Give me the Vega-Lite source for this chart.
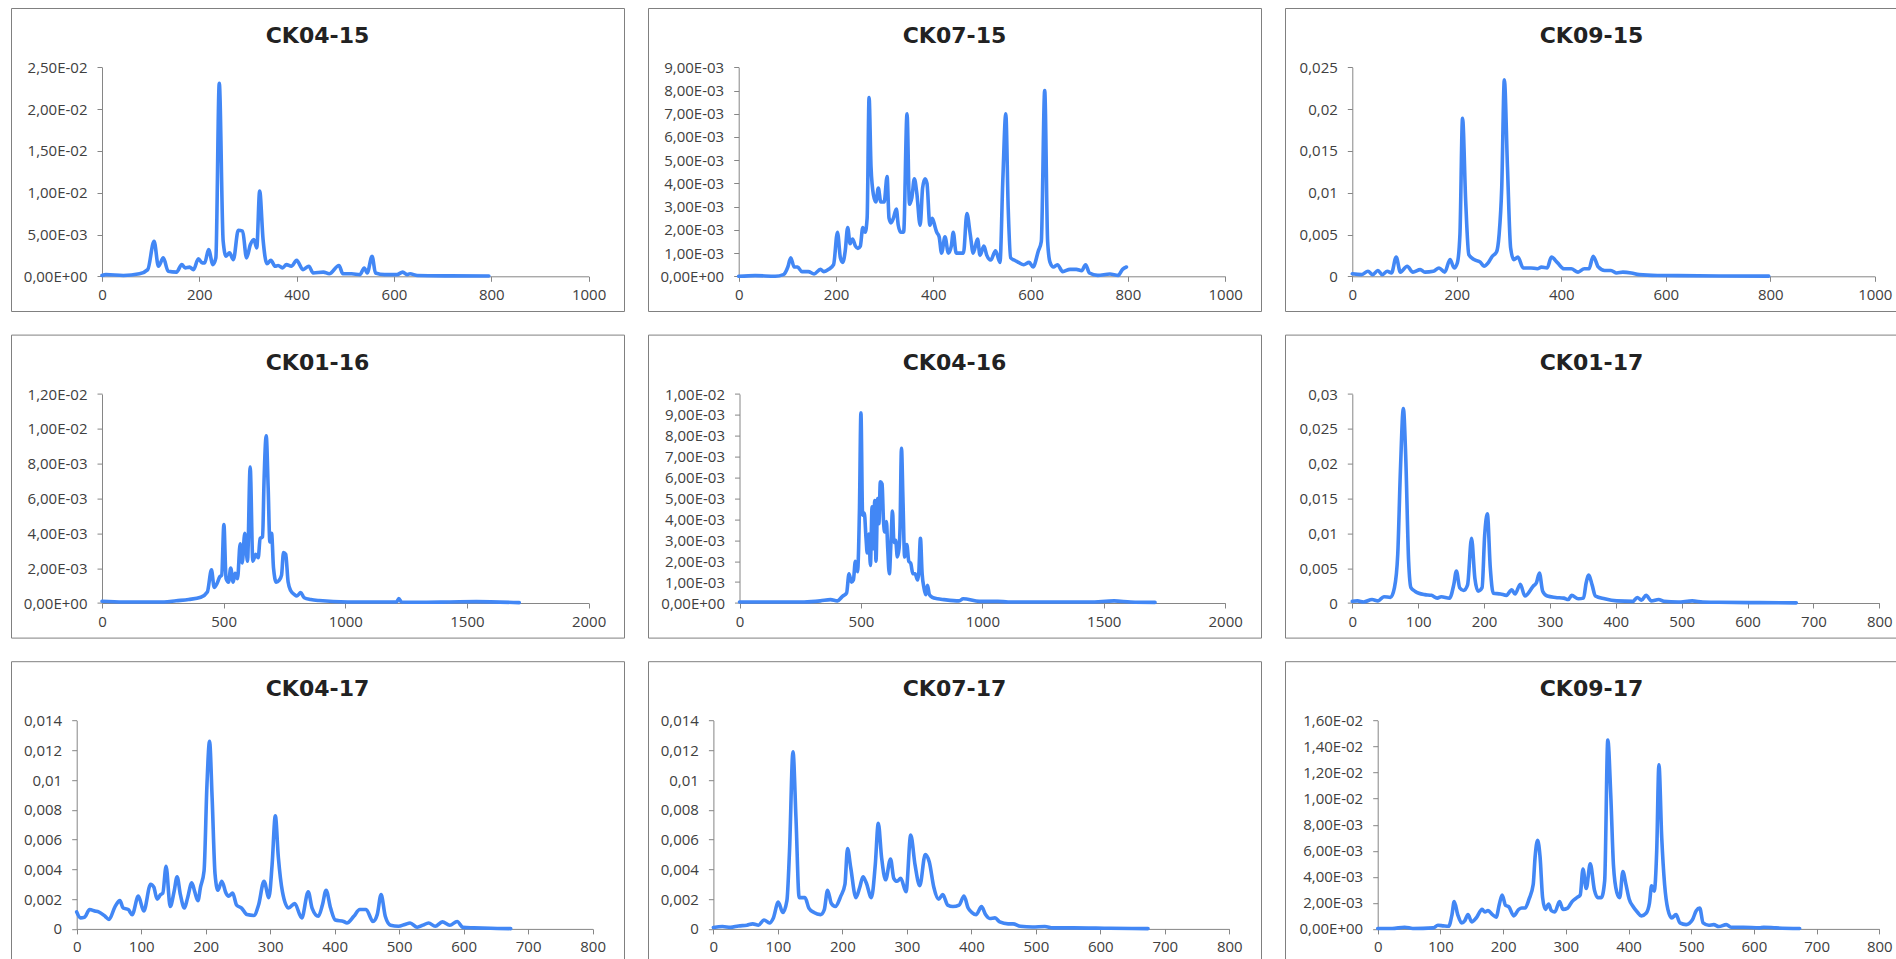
{
  "$schema": "https://vega.github.io/schema/vega-lite/v6.json",
  "background": "white",
  "padding": {"left": 10, "top": 7, "right": 0, "bottom": 0},
  "columns": 3,
  "spacing": {"row": 23.6, "column": 24},
  "bounds": "flush",
  "datasets": {
    "ck0415": [{"x":0,"y":0.0001},{"x":8,"y":0.0002},{"x":44,"y":0.0001},{"x":77,"y":0.0003},{"x":94,"y":0.0008},{"x":107,"y":0.0042},{"x":116,"y":0.0012},{"x":126,"y":0.0022},{"x":136,"y":0.0006},{"x":153,"y":0.0005},{"x":164,"y":0.0014},{"x":171,"y":0.001},{"x":180,"y":0.0011},{"x":188,"y":0.0008},{"x":198,"y":0.0021},{"x":206,"y":0.0016},{"x":211,"y":0.0016},{"x":219,"y":0.0032},{"x":228,"y":0.0014},{"x":234,"y":0.0022},{"x":241,"y":0.0231},{"x":249,"y":0.0042},{"x":255,"y":0.0024},{"x":262,"y":0.0028},{"x":270,"y":0.002},{"x":280,"y":0.0055},{"x":289,"y":0.0054},{"x":297,"y":0.0022},{"x":305,"y":0.0038},{"x":312,"y":0.0044},{"x":318,"y":0.0034},{"x":324,"y":0.0102},{"x":331,"y":0.0044},{"x":339,"y":0.0015},{"x":347,"y":0.0019},{"x":356,"y":0.0012},{"x":362,"y":0.0013},{"x":371,"y":0.001},{"x":379,"y":0.0014},{"x":389,"y":0.0012},{"x":400,"y":0.0019},{"x":413,"y":0.0008},{"x":425,"y":0.0012},{"x":434,"y":0.0004},{"x":455,"y":0.0005},{"x":467,"y":0.0003},{"x":487,"y":0.0013},{"x":495,"y":0.0003},{"x":513,"y":0.0003},{"x":530,"y":0.0002},{"x":539,"y":0.001},{"x":545,"y":0.0004},{"x":555,"y":0.0024},{"x":562,"y":0.0004},{"x":581,"y":0.0002},{"x":606,"y":0.0002},{"x":618,"y":0.0005},{"x":627,"y":0.0002},{"x":633,"y":0.0003},{"x":648,"y":0.0001},{"x":715,"y":0.00005},{"x":795,"y":0.00003}],
    "ck0715": [{"x":0,"y":0},{"x":34,"y":0.00003},{"x":75,"y":0},{"x":92,"y":0.00007},{"x":101,"y":0.0004},{"x":107,"y":0.0008},{"x":114,"y":0.0004},{"x":121,"y":0.0004},{"x":130,"y":0.0002},{"x":143,"y":0.0002},{"x":155,"y":0.0001},{"x":168,"y":0.0003},{"x":175,"y":0.0002},{"x":185,"y":0.0003},{"x":195,"y":0.0005},{"x":203,"y":0.0019},{"x":209,"y":0.0008},{"x":214,"y":0.0006},{"x":219,"y":0.0011},{"x":224,"y":0.0021},{"x":229,"y":0.0014},{"x":234,"y":0.0016},{"x":240,"y":0.0013},{"x":245,"y":0.0012},{"x":250,"y":0.0013},{"x":255,"y":0.0021},{"x":260,"y":0.0019},{"x":264,"y":0.0025},{"x":268,"y":0.0077},{"x":272,"y":0.0047},{"x":277,"y":0.0035},{"x":282,"y":0.0032},{"x":287,"y":0.0038},{"x":292,"y":0.0032},{"x":299,"y":0.0032},{"x":305,"y":0.0043},{"x":309,"y":0.0025},{"x":313,"y":0.0023},{"x":318,"y":0.0025},{"x":324,"y":0.0029},{"x":328,"y":0.0022},{"x":333,"y":0.0019},{"x":339,"y":0.0019},{"x":346,"y":0.007},{"x":351,"y":0.0031},{"x":356,"y":0.0034},{"x":361,"y":0.0042},{"x":366,"y":0.0036},{"x":373,"y":0.0022},{"x":378,"y":0.0038},{"x":383,"y":0.0042},{"x":387,"y":0.004},{"x":393,"y":0.0022},{"x":398,"y":0.0025},{"x":404,"y":0.0021},{"x":407,"y":0.0019},{"x":412,"y":0.0017},{"x":417,"y":0.001},{"x":424,"y":0.0017},{"x":431,"y":0.001},{"x":437,"y":0.0013},{"x":441,"y":0.0019},{"x":447,"y":0.001},{"x":454,"y":0.001},{"x":462,"y":0.001},{"x":469,"y":0.0027},{"x":476,"y":0.0018},{"x":482,"y":0.001},{"x":491,"y":0.0016},{"x":496,"y":0.0009},{"x":504,"y":0.0013},{"x":510,"y":0.0009},{"x":518,"y":0.0007},{"x":528,"y":0.0011},{"x":537,"y":0.0006},{"x":543,"y":0.0042},{"x":549,"y":0.007},{"x":554,"y":0.0029},{"x":559,"y":0.0008},{"x":566,"y":0.0007},{"x":575,"y":0.0006},{"x":586,"y":0.0005},{"x":597,"y":0.0006},{"x":605,"y":0.0004},{"x":616,"y":0.0011},{"x":622,"y":0.0015},{"x":629,"y":0.008},{"x":635,"y":0.0015},{"x":640,"y":0.0006},{"x":647,"y":0.0004},{"x":655,"y":0.0005},{"x":666,"y":0.0002},{"x":681,"y":0.0003},{"x":694,"y":0.0003},{"x":705,"y":0.00024},{"x":713,"y":0.0005},{"x":721,"y":0.00014},{"x":738,"y":0.00004},{"x":763,"y":0.0001},{"x":780,"y":0.00004},{"x":789,"y":0.0003},{"x":797,"y":0.0004}],
    "ck0915": [{"x":0,"y":0.0003},{"x":18,"y":0.0002},{"x":30,"y":0.0006},{"x":39,"y":0.0002},{"x":49,"y":0.0007},{"x":57,"y":0.0002},{"x":67,"y":0.0006},{"x":75,"y":0.0004},{"x":84,"y":0.0023},{"x":92,"y":0.0005},{"x":105,"y":0.0012},{"x":116,"y":0.0005},{"x":130,"y":0.0008},{"x":139,"y":0.0005},{"x":155,"y":0.0006},{"x":166,"y":0.001},{"x":177,"y":0.0005},{"x":187,"y":0.002},{"x":195,"y":0.001},{"x":201,"y":0.0016},{"x":206,"y":0.005},{"x":211,"y":0.0189},{"x":217,"y":0.009},{"x":223,"y":0.0026},{"x":233,"y":0.002},{"x":245,"y":0.0017},{"x":252,"y":0.0012},{"x":260,"y":0.0016},{"x":268,"y":0.0024},{"x":276,"y":0.0029},{"x":281,"y":0.005},{"x":286,"y":0.0106},{"x":291,"y":0.0235},{"x":297,"y":0.013},{"x":303,"y":0.0034},{"x":309,"y":0.002},{"x":317,"y":0.0023},{"x":327,"y":0.001},{"x":342,"y":0.001},{"x":354,"y":0.0009},{"x":362,"y":0.0011},{"x":373,"y":0.001},{"x":381,"y":0.0023},{"x":393,"y":0.0016},{"x":405,"y":0.0009},{"x":419,"y":0.0009},{"x":432,"y":0.0005},{"x":444,"y":0.0009},{"x":453,"y":0.0009},{"x":461,"y":0.0024},{"x":471,"y":0.0011},{"x":483,"y":0.0007},{"x":495,"y":0.0007},{"x":506,"y":0.0004},{"x":518,"y":0.0005},{"x":534,"y":0.0004},{"x":549,"y":0.0002},{"x":584,"y":0.0001},{"x":623,"y":0.00008},{"x":702,"y":0.00004},{"x":797,"y":0.00002}],
    "ck0116": [{"x":0,"y":0.0001},{"x":87,"y":0.00006},{"x":171,"y":0.00006},{"x":255,"y":0.00006},{"x":305,"y":0.00013},{"x":356,"y":0.0002},{"x":406,"y":0.00033},{"x":433,"y":0.00063},{"x":450,"y":0.0019},{"x":461,"y":0.0009},{"x":472,"y":0.0011},{"x":484,"y":0.0015},{"x":492,"y":0.0016},{"x":501,"y":0.0045},{"x":510,"y":0.0014},{"x":520,"y":0.0012},{"x":529,"y":0.002},{"x":539,"y":0.0012},{"x":547,"y":0.0017},{"x":557,"y":0.0014},{"x":568,"y":0.0034},{"x":576,"y":0.0023},{"x":587,"y":0.004},{"x":598,"y":0.0024},{"x":609,"y":0.0078},{"x":620,"y":0.0024},{"x":632,"y":0.0028},{"x":642,"y":0.0026},{"x":650,"y":0.0037},{"x":660,"y":0.0038},{"x":666,"y":0.007},{"x":675,"y":0.0096},{"x":683,"y":0.0066},{"x":690,"y":0.0035},{"x":697,"y":0.004},{"x":705,"y":0.002},{"x":716,"y":0.0012},{"x":728,"y":0.0013},{"x":738,"y":0.0016},{"x":746,"y":0.0029},{"x":755,"y":0.0028},{"x":765,"y":0.0012},{"x":776,"y":0.0007},{"x":790,"y":0.0005},{"x":801,"y":0.0004},{"x":817,"y":0.0006},{"x":831,"y":0.0003},{"x":858,"y":0.0002},{"x":892,"y":0.00014},{"x":1010,"y":0.00006},{"x":1094,"y":0.00006},{"x":1211,"y":0.00006},{"x":1220,"y":0.00025},{"x":1231,"y":0.00006},{"x":1295,"y":0.00004},{"x":1430,"y":0.00006},{"x":1539,"y":0.00008},{"x":1715,"y":0.00002}],
    "ck0416": [{"x":0,"y":0.00005},{"x":97,"y":0.00005},{"x":266,"y":0.00005},{"x":333,"y":0.0001},{"x":375,"y":0.00016},{"x":403,"y":0.0001},{"x":424,"y":0.00032},{"x":441,"y":0.00048},{"x":451,"y":0.0014},{"x":461,"y":0.001},{"x":469,"y":0.0011},{"x":477,"y":0.002},{"x":486,"y":0.0015},{"x":494,"y":0.0045},{"x":500,"y":0.0091},{"x":507,"y":0.0042},{"x":514,"y":0.0043},{"x":521,"y":0.0031},{"x":526,"y":0.0024},{"x":533,"y":0.0033},{"x":539,"y":0.0018},{"x":546,"y":0.0046},{"x":551,"y":0.0026},{"x":557,"y":0.0049},{"x":562,"y":0.002},{"x":569,"y":0.005},{"x":574,"y":0.0038},{"x":580,"y":0.0058},{"x":587,"y":0.0057},{"x":593,"y":0.0039},{"x":598,"y":0.0034},{"x":605,"y":0.0039},{"x":610,"y":0.0027},{"x":617,"y":0.0014},{"x":624,"y":0.003},{"x":630,"y":0.0044},{"x":636,"y":0.0029},{"x":643,"y":0.003},{"x":650,"y":0.0022},{"x":657,"y":0.0026},{"x":661,"y":0.0036},{"x":667,"y":0.0074},{"x":673,"y":0.005},{"x":680,"y":0.0022},{"x":689,"y":0.0028},{"x":697,"y":0.002},{"x":705,"y":0.0019},{"x":714,"y":0.0014},{"x":723,"y":0.0014},{"x":733,"y":0.0011},{"x":738,"y":0.0014},{"x":745,"y":0.0031},{"x":752,"y":0.0014},{"x":760,"y":0.0007},{"x":767,"y":0.0004},{"x":774,"y":0.00085},{"x":782,"y":0.0004},{"x":794,"y":0.00027},{"x":815,"y":0.0002},{"x":842,"y":0.00016},{"x":904,"y":0.0001},{"x":921,"y":0.0002},{"x":988,"y":0.00008},{"x":1064,"y":0.00008},{"x":1106,"y":0.00005},{"x":1274,"y":0.00005},{"x":1442,"y":0.00005},{"x":1543,"y":0.0001},{"x":1610,"y":0.00005},{"x":1711,"y":0.00003}],
    "ck0117": [{"x":0,"y":0.00024},{"x":8,"y":0.0003},{"x":17,"y":0.00014},{"x":30,"y":0.0005},{"x":39,"y":0.0003},{"x":48,"y":0.0009},{"x":58,"y":0.0008},{"x":64,"y":0.0022},{"x":69,"y":0.007},{"x":73,"y":0.0189},{"x":77.5,"y":0.0279},{"x":81,"y":0.0213},{"x":85.5,"y":0.006},{"x":89,"y":0.0022},{"x":95,"y":0.0017},{"x":101,"y":0.0014},{"x":110,"y":0.0012},{"x":120,"y":0.0011},{"x":129,"y":0.0007},{"x":135,"y":0.0009},{"x":147.5,"y":0.0007},{"x":154,"y":0.0026},{"x":158,"y":0.0046},{"x":163,"y":0.0022},{"x":169,"y":0.0018},{"x":175,"y":0.0026},{"x":181,"y":0.0093},{"x":186,"y":0.0036},{"x":191,"y":0.0017},{"x":197,"y":0.0022},{"x":201,"y":0.0098},{"x":205,"y":0.0128},{"x":209.5,"y":0.005},{"x":214,"y":0.0014},{"x":225,"y":0.0013},{"x":234,"y":0.0011},{"x":242,"y":0.0019},{"x":247,"y":0.0013},{"x":255,"y":0.0027},{"x":262,"y":0.001},{"x":274.5,"y":0.0024},{"x":279.5,"y":0.0029},{"x":284,"y":0.0043},{"x":289,"y":0.0017},{"x":296,"y":0.001},{"x":308.6,"y":0.0008},{"x":321,"y":0.0007},{"x":328,"y":0.0005},{"x":333,"y":0.0011},{"x":343,"y":0.0006},{"x":351,"y":0.0007},{"x":355,"y":0.0029},{"x":359,"y":0.004},{"x":364,"y":0.0026},{"x":369,"y":0.001},{"x":383,"y":0.0006},{"x":401.5,"y":0.0003},{"x":426,"y":0.00024},{"x":432.5,"y":0.0008},{"x":439,"y":0.0004},{"x":446,"y":0.0011},{"x":454,"y":0.0003},{"x":465,"y":0.0005},{"x":473,"y":0.00024},{"x":494.5,"y":0.00014},{"x":516,"y":0.0003},{"x":532,"y":0.00014},{"x":556,"y":0.0001},{"x":618,"y":0.00005},{"x":674,"y":0.00002}],
    "ck0417": [{"x":0,"y":0.00114},{"x":6,"y":0.00074},{"x":12,"y":0.00078},{"x":20,"y":0.0013},{"x":28,"y":0.0012},{"x":34,"y":0.00114},{"x":44,"y":0.00085},{"x":50,"y":0.00063},{"x":59.5,"y":0.0015},{"x":67,"y":0.0019},{"x":72,"y":0.0014},{"x":80,"y":0.0013},{"x":86,"y":0.00096},{"x":95.6,"y":0.0022},{"x":104,"y":0.0012},{"x":114.6,"y":0.003},{"x":119.6,"y":0.0028},{"x":124.7,"y":0.002},{"x":130,"y":0.0023},{"x":133.5,"y":0.0024},{"x":138.6,"y":0.0042},{"x":145,"y":0.0015},{"x":151,"y":0.0025},{"x":155.7,"y":0.0035},{"x":160.8,"y":0.0023},{"x":167,"y":0.0014},{"x":172,"y":0.0021},{"x":178.5,"y":0.0031},{"x":183,"y":0.0025},{"x":188,"y":0.0019},{"x":192,"y":0.0028},{"x":197.5,"y":0.0039},{"x":202,"y":0.0097},{"x":206,"y":0.0126},{"x":210,"y":0.0088},{"x":214.5,"y":0.0037},{"x":219,"y":0.0026},{"x":225,"y":0.0032},{"x":231.6,"y":0.0024},{"x":235.4,"y":0.0022},{"x":241.8,"y":0.0024},{"x":248,"y":0.0016},{"x":255.7,"y":0.0014},{"x":264,"y":0.00096},{"x":274.7,"y":0.0009},{"x":282,"y":0.0016},{"x":290.5,"y":0.0032},{"x":298,"y":0.0021},{"x":303,"y":0.0043},{"x":308,"y":0.0076},{"x":312.7,"y":0.0048},{"x":319,"y":0.0025},{"x":328.5,"y":0.0014},{"x":338,"y":0.0017},{"x":349,"y":0.00074},{"x":359,"y":0.0025},{"x":365,"y":0.0014},{"x":374.7,"y":0.00085},{"x":381,"y":0.0016},{"x":386.7,"y":0.0026},{"x":393.7,"y":0.0014},{"x":401,"y":0.0006},{"x":414,"y":0.0005},{"x":419,"y":0.0004},{"x":429.7,"y":0.00085},{"x":439,"y":0.0013},{"x":448.7,"y":0.0013},{"x":459.5,"y":0.0005},{"x":466,"y":0.00096},{"x":472,"y":0.0023},{"x":478.5,"y":0.00085},{"x":486.7,"y":0.00025},{"x":499,"y":0.00018},{"x":509,"y":0.0003},{"x":517,"y":0.0004},{"x":528,"y":0.00011},{"x":537,"y":0.00025},{"x":545.6,"y":0.0004},{"x":556,"y":0.00018},{"x":567,"y":0.00047},{"x":578.5,"y":0.00025},{"x":590,"y":0.0005},{"x":599,"y":0.0001},{"x":616,"y":0.00007},{"x":642,"y":0.00004},{"x":673,"y":0.00002}],
    "ck0717": [{"x":0,"y":0.0001},{"x":14,"y":0.00016},{"x":26.6,"y":0.0001},{"x":39,"y":0.0002},{"x":52,"y":0.00025},{"x":61,"y":0.00034},{"x":70,"y":0.00025},{"x":78.5,"y":0.0006},{"x":87,"y":0.0004},{"x":93,"y":0.00074},{"x":100.6,"y":0.0018},{"x":107.6,"y":0.0011},{"x":114,"y":0.0019},{"x":118,"y":0.0052},{"x":123.4,"y":0.0119},{"x":128,"y":0.0075},{"x":133,"y":0.0021},{"x":142,"y":0.0021},{"x":148,"y":0.0014},{"x":156,"y":0.0011},{"x":166,"y":0.00096},{"x":172,"y":0.0013},{"x":177,"y":0.0026},{"x":183,"y":0.0017},{"x":189,"y":0.0015},{"x":197.5,"y":0.0022},{"x":204,"y":0.003},{"x":208,"y":0.0054},{"x":213,"y":0.0041},{"x":221,"y":0.0021},{"x":227,"y":0.0028},{"x":232,"y":0.0035},{"x":237,"y":0.0031},{"x":245,"y":0.0021},{"x":251,"y":0.0043},{"x":255.7,"y":0.0071},{"x":260.8,"y":0.0048},{"x":267,"y":0.0033},{"x":274.7,"y":0.0047},{"x":279.7,"y":0.0034},{"x":284.8,"y":0.0032},{"x":290.5,"y":0.0034},{"x":298.7,"y":0.0025},{"x":306,"y":0.0063},{"x":312.7,"y":0.0043},{"x":320,"y":0.0029},{"x":328.5,"y":0.005},{"x":334.8,"y":0.0045},{"x":341.8,"y":0.0028},{"x":349.4,"y":0.002},{"x":355.7,"y":0.0023},{"x":363.3,"y":0.0016},{"x":371.5,"y":0.0015},{"x":381,"y":0.0016},{"x":388.6,"y":0.0022},{"x":395,"y":0.0014},{"x":401,"y":0.0011},{"x":407.6,"y":0.00096},{"x":415.8,"y":0.0015},{"x":422,"y":0.00096},{"x":428.5,"y":0.0007},{"x":436.7,"y":0.00074},{"x":444,"y":0.00047},{"x":457,"y":0.00034},{"x":464.6,"y":0.00034},{"x":476,"y":0.00018},{"x":495,"y":0.00013},{"x":514,"y":0.00016},{"x":526.6,"y":0.00007},{"x":558,"y":0.00007},{"x":615,"y":0.00004},{"x":674,"y":0.00002}],
    "ck0917": [{"x":0,"y":0.00003},{"x":23,"y":0.00003},{"x":43,"y":0.00013},{"x":56,"y":0.00003},{"x":88.5,"y":0.00008},{"x":96,"y":0.00028},{"x":105,"y":0.00023},{"x":113,"y":0.0002},{"x":118.5,"y":0.0011},{"x":122,"y":0.0021},{"x":127.6,"y":0.0011},{"x":134,"y":0.00046},{"x":139,"y":0.00064},{"x":144,"y":0.0011},{"x":150,"y":0.00054},{"x":157,"y":0.00084},{"x":166.6,"y":0.0015},{"x":171,"y":0.0013},{"x":176,"y":0.0014},{"x":183,"y":0.0011},{"x":189,"y":0.0009},{"x":194,"y":0.0019},{"x":198.5,"y":0.0026},{"x":204,"y":0.0018},{"x":209,"y":0.0017},{"x":217,"y":0.001},{"x":225,"y":0.0015},{"x":229.8,"y":0.0016},{"x":235,"y":0.0016},{"x":241.5,"y":0.0023},{"x":248,"y":0.0034},{"x":251,"y":0.0055},{"x":255,"y":0.0068},{"x":259,"y":0.0055},{"x":263,"y":0.0024},{"x":267.5,"y":0.0015},{"x":272.7,"y":0.0019},{"x":277,"y":0.0014},{"x":282.5,"y":0.0013},{"x":290,"y":0.0021},{"x":295.5,"y":0.0015},{"x":303,"y":0.0016},{"x":310,"y":0.0021},{"x":317.6,"y":0.0024},{"x":323,"y":0.0026},{"x":327.4,"y":0.0046},{"x":332.6,"y":0.0031},{"x":339,"y":0.005},{"x":345.6,"y":0.003},{"x":350.8,"y":0.0024},{"x":356.7,"y":0.0024},{"x":362,"y":0.0037},{"x":367,"y":0.0145},{"x":371.7,"y":0.0103},{"x":376,"y":0.0049},{"x":381.4,"y":0.0028},{"x":386,"y":0.0024},{"x":391,"y":0.0044},{"x":396,"y":0.0034},{"x":401,"y":0.0023},{"x":407.5,"y":0.0017},{"x":414,"y":0.0013},{"x":420.5,"y":0.001},{"x":428,"y":0.0012},{"x":433.5,"y":0.002},{"x":436.8,"y":0.0033},{"x":441,"y":0.0029},{"x":445,"y":0.006},{"x":448.5,"y":0.0126},{"x":453,"y":0.007},{"x":457.6,"y":0.0034},{"x":462.8,"y":0.0015},{"x":469,"y":0.00084},{"x":475.8,"y":0.0011},{"x":482,"y":0.00046},{"x":492,"y":0.00033},{"x":502,"y":0.0007},{"x":508,"y":0.0014},{"x":513.6,"y":0.0016},{"x":519,"y":0.00046},{"x":528,"y":0.00028},{"x":536,"y":0.00033},{"x":544,"y":0.00018},{"x":556,"y":0.00033},{"x":563.6,"y":0.00013},{"x":583,"y":0.00013},{"x":609,"y":0.00008},{"x":615.6,"y":0.00013},{"x":635,"y":0.00008},{"x":673,"y":0.00003}]
  },
  "concat": [
    {"data": {"name": "ck0415"}, "width": 613, "height": 303, "title": "CK04-15",
     "mark": {"type": "line", "interpolate": "monotone", "color": "#4287F5", "strokeWidth": 3.6, "strokeJoin": "round", "strokeCap": "round"},
     "encoding": {
       "x": {"field": "x", "type": "quantitative", "scale": {"domain": [0, 1000], "range": [91, 577.6], "nice": false, "zero": false}, "axis": {"title": null, "format": "d", "values": [0, 200, 400, 600, 800, 1000], "offset": -34.7}},
       "y": {"field": "y", "type": "quantitative", "scale": {"domain": [0, 0.025], "range": [268.3, 59.3], "nice": false}, "axis": {"title": null, "values": [0, 0.005, 0.01, 0.015, 0.02, 0.025], "offset": -91, "labelExpr": "datum.value == 0 ? '0,00E+00' : replace(replace(format(datum.value, '.2e'), '.', ','), 'e-', 'E-0')"}}
     }},
    {"data": {"name": "ck0715"}, "width": 613, "height": 303, "title": "CK07-15",
     "mark": {"type": "line", "interpolate": "monotone", "color": "#4287F5", "strokeWidth": 3.6, "strokeJoin": "round", "strokeCap": "round"},
     "encoding": {
       "x": {"field": "x", "type": "quantitative", "scale": {"domain": [0, 1000], "range": [90.7, 577.2], "nice": false, "zero": false}, "axis": {"title": null, "format": "d", "values": [0, 200, 400, 600, 800, 1000], "offset": -34.7}},
       "y": {"field": "y", "type": "quantitative", "scale": {"domain": [0, 0.009], "range": [268.3, 59.3], "nice": false}, "axis": {"title": null, "values": [0, 0.001, 0.002, 0.003, 0.004, 0.005, 0.006, 0.007, 0.008, 0.009], "offset": -90.7, "labelExpr": "datum.value == 0 ? '0,00E+00' : replace(replace(format(datum.value, '.2e'), '.', ','), 'e-', 'E-0')"}}
     }},
    {"data": {"name": "ck0915"}, "width": 613, "height": 303, "title": "CK09-15",
     "mark": {"type": "line", "interpolate": "monotone", "color": "#4287F5", "strokeWidth": 3.6, "strokeJoin": "round", "strokeCap": "round"},
     "encoding": {
       "x": {"field": "x", "type": "quantitative", "scale": {"domain": [0, 1000], "range": [67.3, 589.8], "nice": false, "zero": false}, "axis": {"title": null, "format": "d", "values": [0, 200, 400, 600, 800, 1000], "offset": -34.7}},
       "y": {"field": "y", "type": "quantitative", "scale": {"domain": [0, 0.025], "range": [268.3, 59.3], "nice": false}, "axis": {"title": null, "values": [0, 0.005, 0.01, 0.015, 0.02, 0.025], "offset": -67.3, "labelExpr": "replace(format(datum.value, '.4~f'), '.', ',')"}}
     }},
    {"data": {"name": "ck0116"}, "width": 613, "height": 303, "title": "CK01-16",
     "mark": {"type": "line", "interpolate": "monotone", "color": "#4287F5", "strokeWidth": 3.6, "strokeJoin": "round", "strokeCap": "round"},
     "encoding": {
       "x": {"field": "x", "type": "quantitative", "scale": {"domain": [0, 2000], "range": [91, 577.6], "nice": false, "zero": false}, "axis": {"title": null, "format": "d", "values": [0, 500, 1000, 1500, 2000], "offset": -34.6}},
       "y": {"field": "y", "type": "quantitative", "scale": {"domain": [0, 0.012], "range": [268.4, 59.4], "nice": false}, "axis": {"title": null, "values": [0, 0.002, 0.004, 0.006, 0.008, 0.01, 0.012], "offset": -91, "labelExpr": "datum.value == 0 ? '0,00E+00' : replace(replace(format(datum.value, '.2e'), '.', ','), 'e-', 'E-0')"}}
     }},
    {"data": {"name": "ck0416"}, "width": 613, "height": 303, "title": "CK04-16",
     "mark": {"type": "line", "interpolate": "monotone", "color": "#4287F5", "strokeWidth": 3.6, "strokeJoin": "round", "strokeCap": "round"},
     "encoding": {
       "x": {"field": "x", "type": "quantitative", "scale": {"domain": [0, 2000], "range": [91.5, 577.2], "nice": false, "zero": false}, "axis": {"title": null, "format": "d", "values": [0, 500, 1000, 1500, 2000], "offset": -34.6}},
       "y": {"field": "y", "type": "quantitative", "scale": {"domain": [0, 0.01], "range": [268.4, 59.4], "nice": false}, "axis": {"title": null, "values": [0, 0.001, 0.002, 0.003, 0.004, 0.005, 0.006, 0.007, 0.008, 0.009, 0.01], "offset": -91.5, "labelExpr": "datum.value == 0 ? '0,00E+00' : replace(replace(format(datum.value, '.2e'), '.', ','), 'e-', 'E-0')"}}
     }},
    {"data": {"name": "ck0117"}, "width": 613, "height": 303, "title": "CK01-17",
     "mark": {"type": "line", "interpolate": "monotone", "color": "#4287F5", "strokeWidth": 3.6, "strokeJoin": "round", "strokeCap": "round"},
     "encoding": {
       "x": {"field": "x", "type": "quantitative", "scale": {"domain": [0, 800], "range": [67.3, 594.3], "nice": false, "zero": false}, "axis": {"title": null, "format": "d", "values": [0, 100, 200, 300, 400, 500, 600, 700, 800], "offset": -34.6}},
       "y": {"field": "y", "type": "quantitative", "scale": {"domain": [0, 0.03], "range": [268.4, 59.4], "nice": false}, "axis": {"title": null, "values": [0, 0.005, 0.01, 0.015, 0.02, 0.025, 0.03], "offset": -67.3, "labelExpr": "replace(format(datum.value, '.4~f'), '.', ',')"}}
     }},
    {"data": {"name": "ck0417"}, "width": 613, "height": 303, "title": "CK04-17",
     "mark": {"type": "line", "interpolate": "monotone", "color": "#4287F5", "strokeWidth": 3.6, "strokeJoin": "round", "strokeCap": "round"},
     "encoding": {
       "x": {"field": "x", "type": "quantitative", "scale": {"domain": [0, 800], "range": [65.7, 581.6], "nice": false, "zero": false}, "axis": {"title": null, "format": "d", "values": [0, 100, 200, 300, 400, 500, 600, 700, 800], "offset": -35.3}},
       "y": {"field": "y", "type": "quantitative", "scale": {"domain": [0, 0.014], "range": [267.7, 59.3], "nice": false}, "axis": {"title": null, "values": [0, 0.002, 0.004, 0.006, 0.008, 0.01, 0.012, 0.014], "offset": -65.7, "labelExpr": "replace(format(datum.value, '.4~f'), '.', ',')"}}
     }},
    {"data": {"name": "ck0717"}, "width": 613, "height": 303, "title": "CK07-17",
     "mark": {"type": "line", "interpolate": "monotone", "color": "#4287F5", "strokeWidth": 3.6, "strokeJoin": "round", "strokeCap": "round"},
     "encoding": {
       "x": {"field": "x", "type": "quantitative", "scale": {"domain": [0, 800], "range": [65.4, 581.3], "nice": false, "zero": false}, "axis": {"title": null, "format": "d", "values": [0, 100, 200, 300, 400, 500, 600, 700, 800], "offset": -35.3}},
       "y": {"field": "y", "type": "quantitative", "scale": {"domain": [0, 0.014], "range": [267.7, 59.3], "nice": false}, "axis": {"title": null, "values": [0, 0.002, 0.004, 0.006, 0.008, 0.01, 0.012, 0.014], "offset": -65.4, "labelExpr": "replace(format(datum.value, '.4~f'), '.', ',')"}}
     }},
    {"data": {"name": "ck0917"}, "width": 613, "height": 303, "title": "CK09-17",
     "mark": {"type": "line", "interpolate": "monotone", "color": "#4287F5", "strokeWidth": 3.6, "strokeJoin": "round", "strokeCap": "round"},
     "encoding": {
       "x": {"field": "x", "type": "quantitative", "scale": {"domain": [0, 800], "range": [92.7, 594.3], "nice": false, "zero": false}, "axis": {"title": null, "format": "d", "values": [0, 100, 200, 300, 400, 500, 600, 700, 800], "offset": -35.3}},
       "y": {"field": "y", "type": "quantitative", "scale": {"domain": [0, 0.016], "range": [267.7, 59.3], "nice": false}, "axis": {"title": null, "values": [0, 0.002, 0.004, 0.006, 0.008, 0.01, 0.012, 0.014, 0.016], "offset": -92.7, "labelExpr": "datum.value == 0 ? '0,00E+00' : replace(replace(format(datum.value, '.2e'), '.', ','), 'e-', 'E-0')"}}
     }}
  ],
  "config": {
    "view": {"stroke": "#808080", "strokeWidth": 1, "fill": "white"},
    "axis": {"grid": false, "domainColor": "#868686", "tickColor": "#868686", "tickSize": 5, "domainWidth": 1, "tickWidth": 1, "labelColor": "#404040", "labelFont": "Open Sans", "labelFontSize": 15, "labelFlush": false, "labelOverlap": false, "labelBound": false},
    "axisY": {"labelPadding": 10},
    "axisX": {"labelPadding": 6},
    "title": {"font": "DejaVu Sans", "fontSize": 22, "fontWeight": "bold", "color": "#222222", "anchor": "middle", "frame": "group", "offset": -40, "baseline": "alphabetic"}
  }
}
